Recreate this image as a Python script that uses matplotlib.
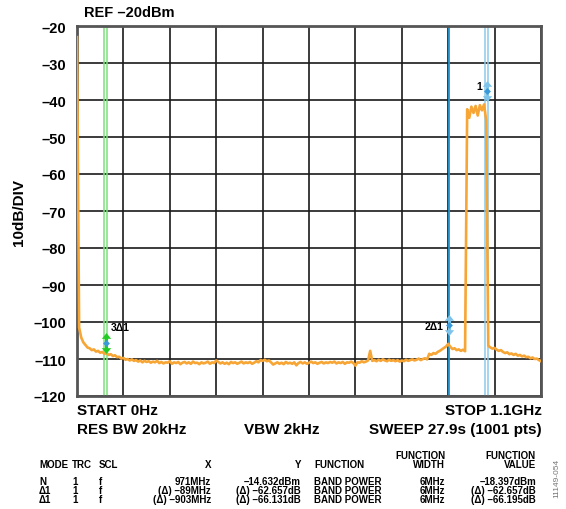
import numpy as np
import matplotlib
matplotlib.use("Agg")
import matplotlib.pyplot as plt
from matplotlib.path import Path

plt.rcParams['font.family'] = ['Liberation Sans', 'DejaVu Sans']
plt.rcParams['font.weight'] = 'bold'

# ---------------- data ----------------
freq_start_mhz = 0
freq_stop_mhz = 1100
ref_level = -20
y_bottom = -120

trace_levels = [
    -23.0, -101.5, -104.2, -105.5, -106.2, -106.9, -107.1, -107.6, -107.4, -108.0,
    -107.8, -108.3, -108.1, -108.6, -108.4, -108.9, -108.7, -109.2, -109.0, -109.5,
    -109.4, -109.9, -109.7, -110.2, -110.0, -110.4, -110.1, -110.5, -110.3, -110.7,
    -110.4,
    -110.9, -110.5, -110.8, -110.6, -111.0, -110.7, -110.9, -110.5, -111.1, -110.8,
    -111.2, -110.9, -111.0, -110.6, -111.3, -110.9, -111.1, -110.8, -111.4, -111.0,
    -110.8, -111.2, -110.9, -111.3, -110.7, -111.1, -111.0, -111.4, -110.9, -111.2,
    -111.0, -110.7, -111.3, -110.9, -111.1, -110.4, -110.8, -111.2, -110.9, -111.3,
    -111.0, -111.4, -110.8, -111.1, -110.9, -111.3, -111.0, -110.7, -111.2, -110.9,
    -111.1, -110.8, -111.3, -111.0, -110.6, -110.9, -110.3, -110.5, -110.2, -110.6,
    -110.4, -110.9, -111.5, -111.2, -110.9, -111.3, -111.0, -111.4, -110.8, -111.2,
    -111.0, -111.3, -110.9, -111.7, -111.1, -110.8, -111.2, -110.9, -111.3, -111.0,
    -110.7, -111.1, -110.9, -111.3, -111.0, -110.8, -111.2, -110.9, -111.1, -110.8,
    -111.0, -110.7, -111.2, -110.9, -111.1, -110.8, -111.3, -110.9, -111.0, -110.7,
    -111.1, -111.8, -110.9, -111.0, -110.6, -110.9, -110.7, -110.4, -107.8, -110.5,
    -110.3, -110.6, -110.2, -110.5, -110.1, -110.4, -110.6, -110.2, -110.5, -110.3,
    -110.6, -110.3, -110.7, -110.4, -110.6, -110.2, -110.5, -110.3, -110.1, -110.4,
    -110.2, -109.9, -110.3, -110.0, -109.8, -110.1, -108.6, -108.9, -108.4, -108.6,
    -108.1, -107.8, -107.4, -107.0, -106.6, -105.9,
    -106.7, -107.3, -107.1, -107.6, -107.4, -107.8, -107.5, -107.9,
    -42.5, -44.8, -41.8, -43.5, -41.6, -44.2, -41.4, -42.8, -41.2, -45.5,
    -106.4, -106.9, -107.2, -107.0, -107.5, -107.8, -107.6, -108.1, -108.4, -108.2,
    -108.7, -108.5, -108.9, -108.6, -109.1, -108.9, -109.3, -109.1, -109.5, -109.4,
    -109.8, -109.6, -110.0, -109.9, -110.3, -110.6,
]

marker_labels = ['1', '2Δ1', '3Δ1']
marker_freqs = [971, 882, 68]
marker_levels = [-37.7, -100.8, -105.6]
band_width_mhz = 6

y_ticks = [-20, -30, -40, -50, -60, -70, -80, -90, -100, -110, -120]
y_tick_labels = ['–20', '–30', '–40', '–50', '–60', '–70', '–80', '–90', '–100', '–110', '–120']

table_header = ['MODE', 'TRC', 'SCL', 'X', 'Y', 'FUNCTION', 'FUNCTION\nWIDTH', 'FUNCTION\nVALUE']
table_rows = [
    ['N', '1', 'f', '971MHz', '–14.632dBm', 'BAND POWER', '6MHz', '–18.397dBm'],
    ['Δ1', '1', 'f', '(Δ) –89MHz', '(Δ) –62.657dB', 'BAND POWER', '6MHz', '(Δ) –62.657dB'],
    ['Δ1', '1', 'f', '(Δ) –903MHz', '(Δ) –66.131dB', 'BAND POWER', '6MHz', '(Δ) –66.195dB'],
]

# ---------------- figure ----------------
W, H = 566, 510
fig = plt.figure(figsize=(W / 100, H / 100), dpi=100)
ax = fig.add_axes([77 / W, 1 - 397 / H, 464 / W, 370 / H])

freqs = np.linspace(freq_start_mhz, freq_stop_mhz, len(trace_levels))
TRACE = '#F7A535'

ax.set_xlim(freq_start_mhz, freq_stop_mhz)
ax.set_ylim(y_bottom, ref_level)
ax.set_xticks(np.linspace(freq_start_mhz, freq_stop_mhz, 11))
ax.set_xticklabels([])
ax.set_yticks(y_ticks)
ax.set_yticklabels(y_tick_labels, fontsize=10.5, fontweight='bold')
ax.tick_params(axis='both', length=0, pad=8)
ax.grid(True, color='#1a1a1a', lw=1.2)
ax.set_axisbelow(True)
for s in ax.spines.values():
    s.set_color('#555555')
    s.set_linewidth(2.0)

# band-power marker lines
GREEN = '#7CE07C'
LBLUE = '#8CCBEB'
DBLUE = '#2196CF'
for f in [marker_freqs[2] - band_width_mhz / 2, marker_freqs[2] + band_width_mhz / 2]:
    ax.axvline(f, color=GREEN, lw=1.1, zorder=2)
for f in [marker_freqs[0] - band_width_mhz / 2, marker_freqs[0] + band_width_mhz / 2]:
    ax.axvline(f, color=LBLUE, lw=1.1, zorder=2)
ax.axvline(marker_freqs[1] - 1, color=DBLUE, lw=1.3, zorder=2)

ax.plot(freqs, trace_levels, color=TRACE, lw=1.9, zorder=3)

# marker symbols (double-headed arrow)
arrow = Path([(0, 1), (0.45, 0.45), (0.15, 0.45), (0.15, -0.45), (0.45, -0.45),
              (0, -1), (-0.45, -0.45), (-0.15, -0.45), (-0.15, 0.45), (-0.45, 0.45), (0, 1)],
             [Path.MOVETO] + [Path.LINETO] * 9 + [Path.CLOSEPOLY])
mk_colors = ['#7EC4EA', '#7EC4EA', '#22CC22']
for f, lv, c in zip(marker_freqs, marker_levels, mk_colors):
    ax.plot([f], [lv], marker=arrow, markersize=15, color=c, mec='none', zorder=5)
    ax.plot([f], [lv], marker='D', markersize=3.5, color='#3A9AD9', mec='none', zorder=6)

ax.annotate(marker_labels[0], (marker_freqs[0], marker_levels[0]), xytext=(-3, 0),
            textcoords='offset points', ha='right', va='bottom', fontsize=7.5, fontweight='bold')
ax.annotate(marker_labels[1], (marker_freqs[1], marker_levels[1]), xytext=(-4, -1),
            textcoords='offset points', ha='right', va='center', fontsize=7.5, fontweight='bold')
ax.annotate(marker_labels[2], (marker_freqs[2], marker_levels[2]), xytext=(4, 8),
            textcoords='offset points', ha='left', va='bottom', fontsize=7.5, fontweight='bold')

ax.set_ylabel('10dB/DIV', fontsize=11, fontweight='bold', labelpad=5)


def T(x, y, s, ha='left', size=11, **kw):
    fig.text(x / W, 1 - y / H, s, ha=ha, va='center', fontsize=size, fontweight='bold', **kw)


T(84, 13, 'REF –20dBm', size=10.5)
T(77, 411, 'START 0Hz')
T(542, 411, 'STOP 1.1GHz', ha='right')
T(77, 430, 'RES BW 20kHz')
T(282, 430, 'VBW 2kHz', ha='center')
T(542, 430, 'SWEEP 27.9s (1001 pts)', ha='right')

col_x = [39, 72, 99, 211, 301, 314, 445, 536]
col_ha = ['left', 'left', 'left', 'right', 'right', 'left', 'right', 'right']
for x, ha, h in zip(col_x, col_ha, table_header):
    lines = h.split('\n')
    if len(lines) == 2:
        T(x, 456, lines[0], ha=ha, size=7)
        T(x, 465, lines[1], ha=ha, size=7)
    else:
        T(x, 465, h, ha=ha, size=7)
for r, row in enumerate(table_rows):
    for x, ha, v in zip(col_x, col_ha, row):
        T(x, 482 + 9 * r, v, ha=ha, size=7)

fig.text(557 / W, 1 - 478 / H, '11149-054', rotation=90, ha='center', va='center',
         fontsize=6, color='#777777', fontweight='normal')

fig.savefig('out.png', dpi=100)
